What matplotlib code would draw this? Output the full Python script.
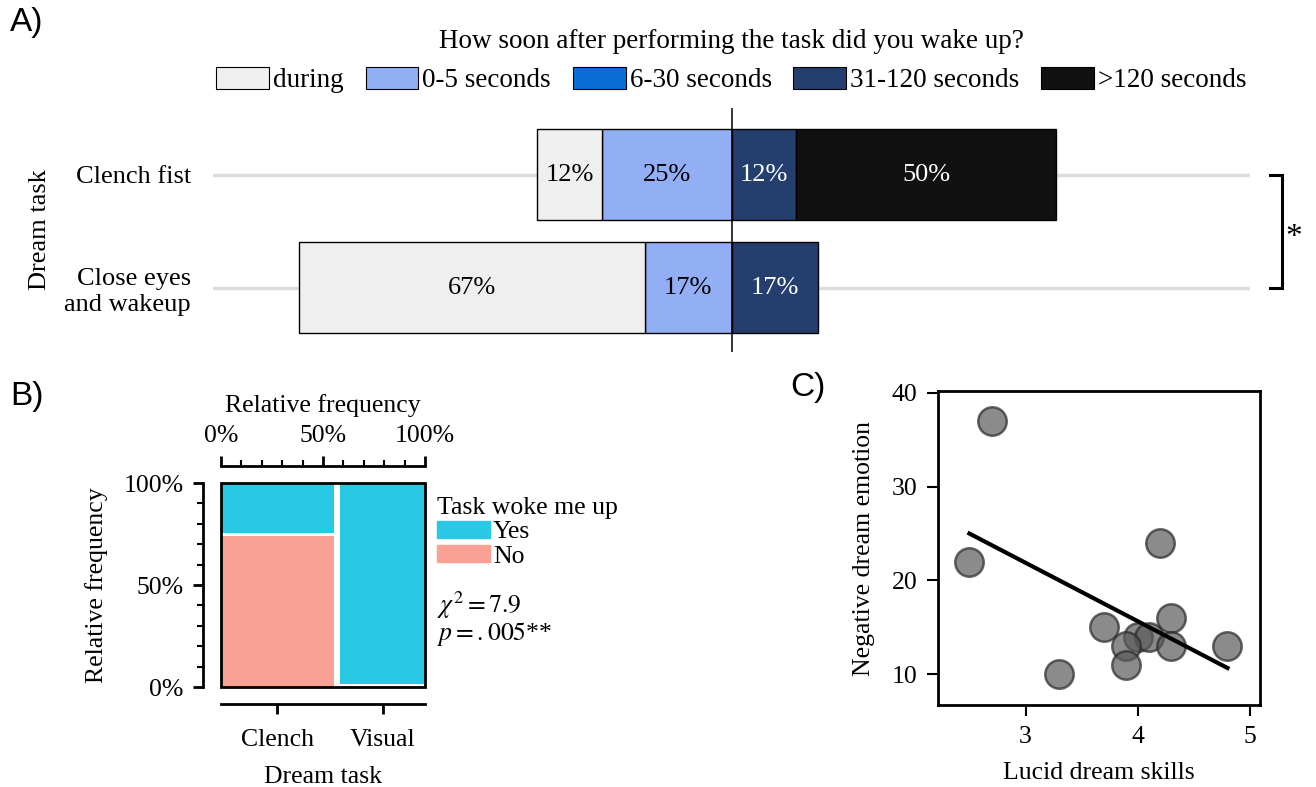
import numpy as np
import matplotlib.pyplot as plt
from matplotlib.patches import Patch, Rectangle

plt.rcParams['font.family'] = ['Liberation Serif', 'DejaVu Serif']
plt.rcParams['mathtext.fontset'] = 'stix'
plt.rcParams['font.size'] = 18.5

# A) how soon after the task people woke up (counts per category)
tasks = ['Clench fist', 'Close eyes\nand wakeup']
latency_cats = ['during', '0-5 seconds', '6-30 seconds', '31-120 seconds', '>120 seconds']
latency_colors = ['#efefef', '#92aef5', '#0a6ed8', '#243f6e', '#111111']
clench_counts = [1, 2, 0, 1, 4]
close_counts = [4, 1, 0, 1, 0]

# B) mosaic: did the task wake you up
mosaic_tasks = ['Clench', 'Visual']
woke_yes = [2, 6]
woke_no = [6, 0]
yes_color = '#29c8e4'
no_color = '#f8a194'

# C) lucid dream skills vs negative dream emotion
skills = [2.7, 2.5, 4.2, 3.7, 4.3, 4.0, 4.1, 3.9, 4.3, 4.8, 3.9, 3.3]
neg_emotion = [37, 22, 24, 15, 16, 14, 14, 13, 13, 13, 11, 10]

W, H = 1316, 787
fig = plt.figure(figsize=(W / 100, H / 100), dpi=100)


def rect(x0, y0, x1, y1):
    # pixel box -> figure fraction
    return [x0 / W, 1 - y1 / H, (x1 - x0) / W, (y1 - y0) / H]


sans = ['Liberation Sans', 'DejaVu Sans']
fig.text(10 / W, 1 - 22 / H, 'A)', family=sans, fontsize=24, va='center')
fig.text(10 / W, 1 - 397 / H, 'B)', family=sans, fontsize=24, va='center')
fig.text(790 / W, 1 - 387 / H, 'C)', family=sans, fontsize=24, va='center')

# ---------------- A ----------------
axA = fig.add_axes(rect(213, 108, 1250, 352))
ypos = [1, 0]
for y in ypos:
    axA.axhline(y, color='#dddddd', lw=2.5, zorder=0)

for y, counts in zip(ypos, [clench_counts, close_counts]):
    frac = np.array(counts) / sum(counts)
    for side, order in ((-1, [1, 0]), (1, [2, 3, 4])):
        start = 0.0
        for i in order:
            if frac[i] == 0:
                continue
            axA.barh(y, side * frac[i], left=start, height=0.8, color=latency_colors[i],
                     edgecolor='black', lw=1, zorder=2)
            tc = 'black' if i < 2 else 'white'
            axA.text(start + side * frac[i] / 2, y, f'{round(frac[i] * 100)}%',
                     ha='center', va='center', color=tc, fontsize=19, zorder=3)
            start += side * frac[i]

axA.axvline(0, color='black', lw=1.1, zorder=4)
axA.set_xlim(-1, 1)
axA.set_ylim(-0.57, 1.59)
axA.set_xticks([])
axA.set_yticks(ypos, tasks)
axA.tick_params(axis='y', length=0, pad=16, labelsize=19)
for s in axA.spines.values():
    s.set_visible(False)
axA.set_ylabel('Dream task', fontsize=19)
axA.yaxis.set_label_coords(-0.156, 0.5)

handles = [Patch(facecolor=c, edgecolor='black', lw=0.8) for c in latency_colors]
axA.legend(handles, latency_cats, ncol=5, loc='lower center', bbox_to_anchor=(0.5, 1.06),
           frameon=False, title='How soon after performing the task did you wake up?',
           fontsize=19.5, title_fontsize=19.5, handlelength=1.95, handleheight=0.85,
           handletextpad=0.15, columnspacing=0.8, borderpad=0, borderaxespad=0)

# significance bracket
axA.plot([1.039, 1.062, 1.062, 1.039], [1, 1, 0, 0], color='black', lw=2.2,
         clip_on=False, solid_joinstyle='miter')
axA.text(1.068, 0.44, '*', ha='left', va='center', fontsize=24)

# ---------------- B ----------------
axB = fig.add_axes(rect(221, 483, 425, 687))
axB.set_xlim(0, 1)
axB.set_ylim(0, 1)
n = np.array(woke_yes) + np.array(woke_no)
xgap, ygap = 0.033, 0.014
widths = (1 - xgap) * n / n.sum()
x0 = 0.0
centers = []
for j in range(len(mosaic_tasks)):
    no_h = (1 - ygap) * woke_no[j] / n[j]
    axB.add_patch(Rectangle((x0, 0), widths[j], no_h, color=no_color, lw=0))
    axB.add_patch(Rectangle((x0, no_h + ygap), widths[j], 1 - no_h - ygap, color=yes_color, lw=0))
    centers.append(x0 + widths[j] / 2)
    x0 += widths[j] + xgap
axB.add_patch(Rectangle((0, 0), 1, 1, transform=axB.transAxes, fill=False, ec='black',
                        lw=2, clip_on=False, zorder=5))

axB.spines['right'].set_visible(False)
axB.spines['top'].set_visible(False)
axB.spines['left'].set_position(('outward', 13))
axB.spines['bottom'].set_position(('outward', 12))
for s in ('left', 'bottom'):
    axB.spines[s].set_linewidth(2)
axB.set_yticks([0, 0.5, 1], ['0%', '50%', '100%'])
axB.set_yticks([v / 10 for v in range(1, 10) if v != 5], minor=True)
axB.set_xticks(centers, mosaic_tasks)
axB.tick_params(axis='both', which='major', length=7, width=2)
axB.tick_params(axis='y', which='major', pad=7)
axB.tick_params(axis='x', which='major', pad=11)
axB.tick_params(axis='y', which='minor', length=4, width=1.5)
axB.set_ylabel('Relative frequency', labelpad=11)
axB.set_xlabel('Dream task', labelpad=11)

axB2 = axB.twiny()
axB2.set_xlim(0, 1)
for s in ('left', 'right', 'bottom'):
    axB2.spines[s].set_visible(False)
axB2.spines['top'].set_position(('outward', 12))
axB2.spines['top'].set_linewidth(2)
axB2.set_xticks([0, 0.5, 1], ['0%', '50%', '100%'])
axB2.set_xticks([v / 10 for v in range(1, 10) if v != 5], minor=True)
axB2.tick_params(axis='x', which='major', length=7, width=2, pad=7)
axB2.tick_params(axis='x', which='minor', length=4, width=1.5)
axB2.set_xlabel('Relative frequency', labelpad=9)

axB.legend([Patch(color=yes_color), Patch(color=no_color)], ['Yes', 'No'],
           title='Task woke me up', alignment='left',
           loc='upper left', bbox_to_anchor=(1.06, 0.93), frameon=False,
           handlelength=2.05, handleheight=0.68, handletextpad=0.12,
           labelspacing=0.05, borderpad=0, borderaxespad=0)
axB.text(1.06, 0.335, '$\\chi^2=7.9$\n$p=.005$**', transform=axB.transAxes,
         ha='left', va='center', linespacing=0.95)

# ---------------- C ----------------
axC = fig.add_axes(rect(938, 391, 1260, 705))
axC.scatter(skills, neg_emotion, s=420, c='#5a5a5a', alpha=0.7, edgecolors='#2a2a2a',
            linewidths=1.8, zorder=3)
slope, icpt = np.polyfit(skills, neg_emotion, 1)
xs = np.array([min(skills), max(skills)])
axC.plot(xs, slope * xs + icpt, color='black', lw=3, zorder=4)
axC.set_xlim(2.22, 5.09)
axC.set_ylim(6.7, 40.2)
axC.set_xticks([3, 4, 5])
axC.set_yticks([10, 20, 30, 40])
for s in axC.spines.values():
    s.set_linewidth(2)
axC.tick_params(length=8, width=1.5, pad=7)
axC.set_xlabel('Lucid dream skills', labelpad=10)
axC.set_ylabel('Negative dream emotion', labelpad=12)

fig.savefig('out.png', dpi=100)
